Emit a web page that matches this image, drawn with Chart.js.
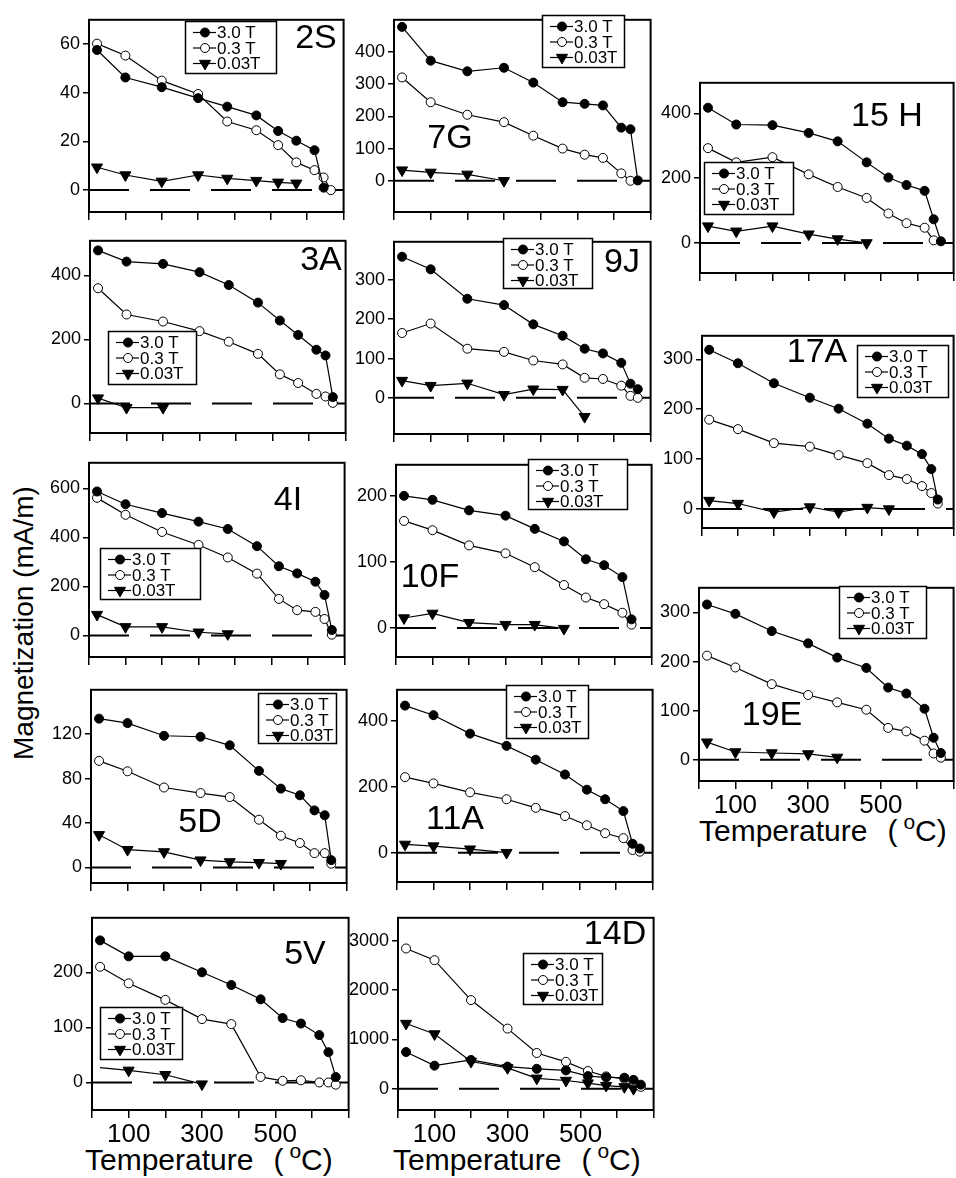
<!DOCTYPE html>
<html>
<head>
<meta charset="utf-8">
<title>Magnetization vs temperature</title>
<script src="https://cdn.jsdelivr.net/npm/chart.js@4.4.1/dist/chart.umd.min.js"></script>
<style>
  html, body { margin:0; padding:0; background:#fff; }
  body { position:relative; width:956px; height:1178px; overflow:hidden;
         font-family:"Liberation Sans", Arial, Helvetica, sans-serif; color:#000; }
  canvas { position:absolute; }
  .xtitle { position:absolute; font-size:30px; line-height:30px; white-space:nowrap; }
  .xtitle .par { margin-left:20px; }
  .xtitle .deg { position:relative; top:-12px; font-size:21px; margin-left:6px; }
  .ytitle { position:absolute; font-size:28px; line-height:28px; white-space:nowrap;
            transform-origin:0 0; transform:rotate(-90deg); }
</style>
</head>
<body>
<div class="ytitle" style="left:10px; top:760px;">Magnetization (mA/m)</div>
<div class="xtitle" style="left:85px; top:1145px;">Temperature<span class="par">(</span><span class="deg">o</span>C)</div>
<div class="xtitle" style="left:393px; top:1145px;">Temperature<span class="par">(</span><span class="deg">o</span>C)</div>
<div class="xtitle" style="left:699px; top:816px;">Temperature<span class="par">(</span><span class="deg">o</span>C)</div>
<script>
// Field strengths of the three remanence series
const SERIES_LABELS = ['3.0 T', '0.3 T', '0.03T'];

// Heating steps (°C)
const T     = [22, 100, 200, 300, 380, 460, 520, 570, 620, 645, 665];
const T_17A = [20, 100, 200, 300, 380, 460, 520, 570, 612, 638, 656];
const T_5D  = [22, 100, 200, 300, 380, 460, 520, 572, 612, 640, 658];

// Temperature axis
const X_TICKS = [0, 100, 200, 300, 400, 500, 600, 700];
const X_TICK_LABELS = [100, 300, 500];

// 2S
const m2S_30  = [57.6, 46.3, 42.3, 37.8, 34.3, 30.7, 24.3, 20.3, 16.4, 1.0];
const m2S_03  = [60.2, 55.3, 45.0, 39.5, 28.2, 24.6, 18.5, 11.4, 8.2, 5.2, 0];
const m2S_003 = [9.4, 6.2, 3.6, 6.2, 4.8, 3.9, 3.2, 2.8];
const yTicks2S = [0, 20, 40, 60];

// 7G
const m7G_30  = [478, 373, 340, 351, 305, 244, 239, 234, 165, 160, 1];
const m7G_03  = [321, 244, 205, 182, 140, 100, 81, 71, 23, 0];
const m7G_003 = [33, 26, 20, 0];
const yTicks7G = [0, 100, 200, 300, 400];

// 15 H
const m15H_30  = [418, 366, 364, 340, 314, 249, 202, 179, 161, 73, 5];
const m15H_03  = [293, 249, 265, 212, 173, 139, 91, 61, 47, 8];
const m15H_003 = [52, 36, 52, 27, 12, 0];
const yTicks15H = [0, 200, 400];

// 3A
const m3A_30  = [478, 443, 436, 410, 370, 315, 259, 214, 168, 150, 20];
const m3A_03  = [360, 278, 256, 226, 193, 155, 91, 64, 30, 22, 2];
const m3A_003 = [17, -13, -13];
const yTicks3A = [0, 200, 400];

// 9J
const m9J_30  = [359, 327, 252, 236, 187, 158, 125, 113, 89, 36, 22];
const m9J_03  = [165, 189, 125, 117, 95, 85, 51, 48, 31, 5, 0];
const m9J_003 = [44, 31, 37, 8, 22, 21, -48];
const yTicks9J = [0, 100, 200, 300];

// 17A
const m17A_30  = [319, 292, 252, 223, 201, 171, 141, 127, 110, 80, 19];
const m17A_03  = [179, 160, 132, 125, 108, 92, 68, 60, 46, 32, 11];
const m17A_003 = [17, 11, -6, 4, -6, 3, 0];
const yTicks17A = [0, 100, 200, 300];

// 4I
const m4I_30  = [587, 535, 499, 464, 434, 364, 282, 253, 219, 165, 22];
const m4I_03  = [561, 492, 422, 369, 318, 252, 149, 103, 96, 67, 3];
const m4I_003 = [85, 35, 35, 13, 6];
const yTicks4I = [0, 200, 400, 600];

// 10F
const m10F_30  = [200, 194, 178, 170, 150, 131, 104, 95, 77, 13];
const m10F_03  = [162, 148, 125, 113, 92, 65, 46, 36, 23, 5];
const m10F_003 = [15, 22, 8, 5, 5, -1];
const yTicks10F = [0, 100, 200];

// 19E
const m19E_30  = [316, 297, 262, 237, 208, 187, 147, 135, 104, 45, 14];
const m19E_03  = [212, 188, 154, 132, 117, 102, 65, 58, 39, 13, 4.5];
const m19E_003 = [36, 16, 14, 12, 5];
const yTicks19E = [0, 100, 200, 300];

// 5D
const m5D_30  = [134, 130, 118.6, 117.7, 110, 87, 71, 65, 51.4, 47, 6.6];
const m5D_03  = [96, 86.6, 72, 67, 63.4, 43, 28.6, 22, 12.9, 12.9, 3.4];
const m5D_003 = [29.4, 16, 14, 6.6, 5, 4.3, 3.4];
const yTicks5D = [0, 40, 80, 120];

// 11A
const m11A_30  = [446, 417, 361, 324, 282, 237, 191, 162, 126, 27, 12.5];
const m11A_03  = [229, 210, 183, 162, 136, 111, 83, 59, 44, 8, 3];
const m11A_003 = [25, 20, 10.6, 0];
const yTicks11A = [0, 200, 400];

// 5V
const m5V_30  = [258, 229, 229, 200, 177, 151, 117, 107, 86, 55, 10];
const m5V_03  = [210, 180, 150, 115, 106, 10, 3, 4, 0, 0, -4];
const m5V_003 = [27, 22, 14, -3];
const yTicks5V = [0, 100, 200];

// 14D
const m14D_30  = [744, 468, 583, 449, 404, 372, 256, 231, 224, 180, 83];
const m14D_03  = [2840, 2603, 1795, 1218, 724, 545, 359, 250, 200, 150, 38];
const m14D_003 = [1320, 1109, 551, 423, 212, 167, 115, 64, 38, 0];
const yTicks14D = [0, 1000, 2000, 3000];

// Page layout of every panel: frame box [left, top, right, bottom],
// legend box [left, top, width, height] and sample-name centre [x, y].
const panels = [
  { name:'2S',   temps:T,     values:[m2S_30,  m2S_03,  m2S_003],  yTicks:yTicks2S,  yRange:[-9, 70],
    box:[89, 10, 345, 212],   legend:[185, 21, 92, 53],  label:[316, 36],  xLabels:false },
  { name:'7G',   temps:T,     values:[m7G_30,  m7G_03,  m7G_003],  yTicks:yTicks7G,  yRange:[-97, 500],
    box:[394, 10, 652, 212],  legend:[542, 15, 83, 53],  label:[450, 136], xLabels:false },
  { name:'15 H', temps:T,     values:[m15H_30, m15H_03, m15H_003], yTicks:yTicks15H, yRange:[-93, 495],
    box:[700, 73, 955, 273],  legend:[704, 162, 90, 53], label:[887, 114], xLabels:false },
  { name:'3A',   temps:T,     values:[m3A_30,  m3A_03,  m3A_003],  yTicks:yTicks3A,  yRange:[-92, 508],
    box:[90, 231, 347, 433],  legend:[108, 331, 89, 54], label:[321, 258], xLabels:false },
  { name:'9J',   temps:T,     values:[m9J_30,  m9J_03,  m9J_003],  yTicks:yTicks9J,  yRange:[-92, 397],
    box:[394, 232, 652, 434], legend:[503, 238, 90, 51], label:[622, 260], xLabels:false },
  { name:'17A',  temps:T_17A, values:[m17A_30, m17A_03, m17A_003], yTicks:yTicks17A, yRange:[-38, 347],
    box:[702, 326, 955, 528], legend:[857, 345, 92, 53], label:[817, 350], xLabels:false },
  { name:'4I',   temps:T,     values:[m4I_30,  m4I_03,  m4I_003],  yTicks:yTicks4I,  yRange:[-88, 704],
    box:[89, 453, 346, 657],  legend:[100, 548, 101, 52], label:[288, 498], xLabels:false },
  { name:'10F',  temps:T,     values:[m10F_30, m10F_03, m10F_003], yTicks:yTicks10F, yRange:[-44, 247],
    box:[396, 455, 653, 657], legend:[528, 459, 100, 51], label:[430, 575], xLabels:false },
  { name:'19E',  temps:T,     values:[m19E_30, m19E_03, m19E_003], yTicks:yTicks19E, yRange:[-43, 350],
    box:[699, 578, 955, 781], legend:[839, 586, 88, 53], label:[772, 713], xLabels:true },
  { name:'5D',   temps:T_5D,  values:[m5D_30,  m5D_03,  m5D_003],  yTicks:yTicks5D,  yRange:[-14, 160],
    box:[91, 680, 348, 883],  legend:[258, 693, 79, 51], label:[200, 820], xLabels:false },
  { name:'11A',  temps:T,     values:[m11A_30, m11A_03, m11A_003], yTicks:yTicks11A, yRange:[-89, 494],
    box:[397, 680, 654, 882], legend:[506, 685, 83, 54], label:[455, 817], xLabels:false },
  { name:'5V',   temps:T,     values:[m5V_30,  m5V_03,  m5V_003],  yTicks:yTicks5V,  yRange:[-50, 299],
    box:[92, 908, 350, 1110], legend:[100, 1007, 83, 53], label:[305, 952], xLabels:true,
    bareFirst:[false, false, true] },
  { name:'14D',  temps:T,     values:[m14D_30, m14D_03, m14D_003], yTicks:yTicks14D, yRange:[-430, 3461],
    box:[398, 908, 655, 1110], legend:[523, 953, 80, 52], label:[615, 932], xLabels:true },
];

// Marker look of each series: filled circle, open circle, downward triangle
const MARKERS = [
  { pointStyle:'circle',   fill:'#000', radius:4.5, rotation:0 },
  { pointStyle:'circle',   fill:'#fff', radius:4.5, rotation:0 },
  { pointStyle:'triangle', fill:'#000', radius:6.4, rotation:180 },
];

const FONT = '"Liberation Sans", Arial, Helvetica, sans-serif';
const PAD_LEFT = 62, PAD_TOP = 4, PAD_RIGHT = 6;

function drawMarker(ctx, m, x, y) {
  ctx.beginPath();
  if (m.pointStyle === 'circle') {
    ctx.arc(x, y, m.radius, 0, Math.PI * 2);
  } else {
    const r = m.radius;
    ctx.moveTo(x, y + r);
    ctx.lineTo(x - r * 0.866, y - r / 2);
    ctx.lineTo(x + r * 0.866, y - r / 2);
    ctx.closePath();
  }
  ctx.fillStyle = m.fill;
  ctx.fill();
  ctx.lineWidth = 1;
  ctx.strokeStyle = '#000';
  ctx.stroke();
}

// Frame around the plot area, boxed legend and the sample name
const panelDecor = {
  id: 'panelDecor',
  beforeDatasetsDraw(chart) {
    const { ctx, chartArea: a } = chart;
    ctx.save();
    ctx.strokeStyle = '#000';
    ctx.lineWidth = 2;
    ctx.strokeRect(a.left, a.top, a.right - a.left, a.bottom - a.top);
    ctx.restore();
  },
  afterDatasetsDraw(chart, args, opts) {
    const ctx = chart.ctx;
    const [ox, oy] = opts.origin;
    ctx.save();
    // legend
    const [lx, ly, lw, lh] = opts.legend;
    const x0 = lx - ox, y0 = ly - oy;
    ctx.fillStyle = '#fff';
    ctx.fillRect(x0, y0, lw, lh);
    ctx.strokeStyle = '#000';
    ctx.lineWidth = 1.5;
    ctx.strokeRect(x0 + 0.5, y0 + 0.5, lw - 1, lh - 1);
    const series = chart.data.datasets.filter(d => !d.isBaseline);
    series.forEach((d, i) => {
      const yy = y0 + 11.5 + i * 15.5;
      ctx.beginPath();
      ctx.moveTo(x0 + 8, yy);
      ctx.lineTo(x0 + 31, yy);
      ctx.lineWidth = 1.2;
      ctx.strokeStyle = '#000';
      ctx.stroke();
      drawMarker(ctx, MARKERS[i], x0 + 20, yy);
      ctx.fillStyle = '#000';
      ctx.font = '17px ' + FONT;
      ctx.textAlign = 'left';
      ctx.textBaseline = 'middle';
      ctx.fillText(d.label, x0 + 32, yy + 1);
    });
    // sample name
    ctx.fillStyle = '#000';
    ctx.font = '34px ' + FONT;
    ctx.textAlign = 'center';
    ctx.textBaseline = 'alphabetic';
    ctx.fillText(opts.name, opts.label[0] - ox, opts.label[1] - oy + 12.2);
    ctx.restore();
  }
};

function buildPanel(p) {
  const [l, t, r, b] = p.box;
  const bottom = p.xLabels ? 54 : 14;
  const W = (r - l) + PAD_LEFT + PAD_RIGHT;
  const H = (b - t) + PAD_TOP + bottom;
  const cv = document.createElement('canvas');
  cv.width = W; cv.height = H;
  cv.style.left = (l - PAD_LEFT) + 'px';
  cv.style.top = (t - PAD_TOP) + 'px';
  cv.style.width = W + 'px';
  cv.style.height = H + 'px';
  document.body.appendChild(cv);

  const datasets = p.values.map((vals, i) => {
    const bare = p.bareFirst && p.bareFirst[i];
    return {
      label: SERIES_LABELS[i],
      data: vals.map((v, k) => ({ x: p.temps[k], y: v })),
      borderColor: '#000',
      borderWidth: 1.2,
      pointStyle: MARKERS[i].pointStyle,
      pointRotation: MARKERS[i].rotation,
      pointRadius: bare ? vals.map((v, k) => k === 0 ? 0 : MARKERS[i].radius) : MARKERS[i].radius,
      pointBackgroundColor: MARKERS[i].fill,
      pointBorderColor: '#000',
      pointBorderWidth: 1,
      fill: false,
      tension: 0,
      clip: false,
      order: i
    };
  });
  // dashed zero line
  datasets.push({
    label: 'zero',
    isBaseline: true,
    data: [{ x: 0, y: 0 }, { x: 700, y: 0 }],
    borderColor: '#000',
    borderWidth: 2,
    borderDash: [40, 21],
    pointRadius: 0,
    fill: false,
    order: 10
  });

  new Chart(cv, {
    type: 'line',
    data: { datasets },
    plugins: [panelDecor],
    options: {
      responsive: false,
      animation: false,
      devicePixelRatio: 1,
      events: [],
      layout: { padding: { top: PAD_TOP, right: PAD_RIGHT, left: 0, bottom: 0 } },
      plugins: {
        legend: { display: false },
        tooltip: { enabled: false },
        panelDecor: { origin: [l - PAD_LEFT, t - PAD_TOP], legend: p.legend, label: p.label, name: p.name }
      },
      scales: {
        x: {
          type: 'linear', min: 0, max: 700,
          afterBuildTicks: s => { s.ticks = X_TICKS.map(v => ({ value: v })); },
          afterFit: s => { s.height = bottom; },
          border: { display: false },
          grid: { drawOnChartArea: false, drawTicks: true, tickLength: 8, color: '#000', lineWidth: 1.5 },
          ticks: {
            autoSkip: false, maxRotation: 0, padding: 1, color: '#000',
            font: { family: FONT, size: 26 },
            callback: v => (p.xLabels && X_TICK_LABELS.includes(v)) ? String(v) : ''
          }
        },
        y: {
          type: 'linear', min: p.yRange[0], max: p.yRange[1],
          afterBuildTicks: s => { s.ticks = p.yTicks.map(v => ({ value: v })); },
          afterFit: s => { s.width = PAD_LEFT; },
          border: { display: false },
          grid: { drawOnChartArea: false, drawTicks: true, tickLength: 6, color: '#000', lineWidth: 1.5 },
          ticks: { padding: 3, color: '#000', font: { family: FONT, size: 18 }, callback: v => String(v) }
        }
      }
    }
  });
}

panels.forEach(buildPanel);
</script>
</body>
</html>
